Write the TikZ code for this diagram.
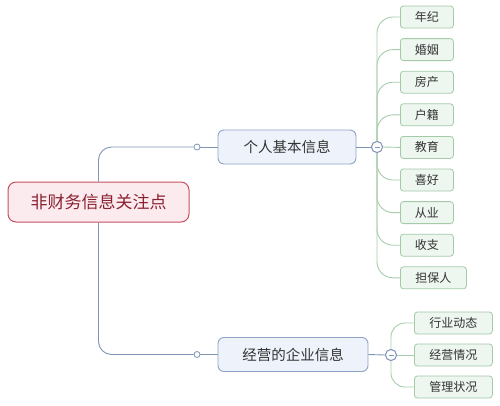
\documentclass[tikz,border=0pt]{standalone}
\usepackage{fontspec}
\setmainfont{Noto Sans CJK SC}
\definecolor{rootfill}{HTML}{FCEBEE}
\definecolor{rootdraw}{HTML}{C4505F}
\definecolor{roottext}{HTML}{8A1F30}
\definecolor{brfill}{HTML}{EEF3FB}
\definecolor{brdraw}{HTML}{8FA3C6}
\definecolor{brline}{HTML}{7F95B8}
\definecolor{lffill}{HTML}{EEF6F0}
\definecolor{lfdraw}{HTML}{A3CBA8}
\definecolor{lfline}{HTML}{A8CDA9}
\definecolor{txt}{HTML}{333333}
\tikzset{
  rootbox/.style={draw=rootdraw, fill=rootfill, line width=1pt, rounded corners=8pt, text=roottext, font=\fontsize{17}{20}\selectfont, minimum height=40pt, inner sep=0pt},
  brbox/.style={draw=brdraw, fill=brfill, line width=0.9pt, rounded corners=6pt, text=txt, font=\fontsize{14.5}{17}\selectfont, minimum height=34pt, inner sep=0pt},
  lfbox/.style={draw=lfdraw, fill=lffill, line width=0.8pt, rounded corners=3pt, text=txt, font=\fontsize{12}{14}\selectfont, minimum height=22pt, inner sep=0pt, anchor=west},
  brconn/.style={draw=brline, line width=0.9pt},
  lfconn/.style={draw=lfline, line width=0.9pt},
  dot/.style={circle, draw=brline, fill=white, line width=0.8pt, minimum size=6pt, inner sep=0pt},
  collapse/.style={circle, draw=brline, fill=white, line width=0.9pt, minimum size=11pt, inner sep=0pt,
    path picture={\draw[brline, line width=0.9pt] ([xshift=-2.5pt]path picture bounding box.center) -- ([xshift=2.5pt]path picture bounding box.center);}}
}
\begin{document}
\begin{tikzpicture}[x=1pt,y=-1pt]
\useasboundingbox[fill=white] (0,0) rectangle (500,405);
% root
\node[rootbox, minimum width=181pt] (root) at (98.5,202) {非财务信息关注点};
% branches
\node[brbox, minimum width=138pt] (b1) at (287,147) {个人基本信息};
\node[brbox, minimum width=150pt] (b2) at (293,354.5) {经营的企业信息};
\node[dot] (d1) at (197,147) {};
\node[dot] (d2) at (197,354.5) {};
\coordinate (rt) at (98,182);
\coordinate (rb) at (98,222);
\draw[brconn, rounded corners=13pt] (root.north) |- (d1.west);
\draw[brconn, rounded corners=13pt] (root.south) |- (d2.west);
\draw[brconn] (d1.east) -- (b1.west);
\draw[brconn] (d2.east) -- (b2.west);
% collapse markers
\node[collapse] (c1) at (377,147) {};
\node[collapse] (c2) at (391,355) {};
% leaves branch 1
\node[lfbox, minimum width=53pt] (l1) at (400,17) {年纪};
\node[lfbox, minimum width=53pt] (l2) at (400,49.6) {婚姻};
\node[lfbox, minimum width=53pt] (l3) at (400,82.2) {房产};
\node[lfbox, minimum width=53pt] (l4) at (400,114.8) {户籍};
\node[lfbox, minimum width=53pt] (l5) at (400,147.4) {教育};
\node[lfbox, minimum width=53pt] (l6) at (400,180) {喜好};
\node[lfbox, minimum width=53pt] (l7) at (400,212.6) {从业};
\node[lfbox, minimum width=53pt] (l8) at (400,245.2) {收支};
\node[lfbox, minimum width=66pt] (l9) at (400,277.8) {担保人};
% leaves branch 2
\node[lfbox, minimum width=78pt] (m1) at (414,323) {行业动态};
\node[lfbox, minimum width=78pt] (m2) at (414,355) {经营情况};
\node[lfbox, minimum width=78pt] (m3) at (414,387) {管理状况};
% connectors to leaves
\begin{scope}[on background layer/.style={}]
\foreach \l in {l1,l2,l3,l4,l6,l7,l8,l9}{
  \draw[lfconn, rounded corners=16pt] (c1.center) |- (\l.west);
}
\draw[lfconn] (c1.east) -- (l5.west);
\foreach \m in {m1,m3}{
  \draw[lfconn, rounded corners=14pt] (c2.center) |- (\m.west);
}
\draw[lfconn] (c2.east) -- (m2.west);
\end{scope}
\draw[brconn] (b1.east) -- (c1.west);
\draw[brconn] (b2.east) -- (c2.west);
\node[collapse] at (c1) {};
\node[collapse] at (c2) {};
\end{tikzpicture}
\end{document}
